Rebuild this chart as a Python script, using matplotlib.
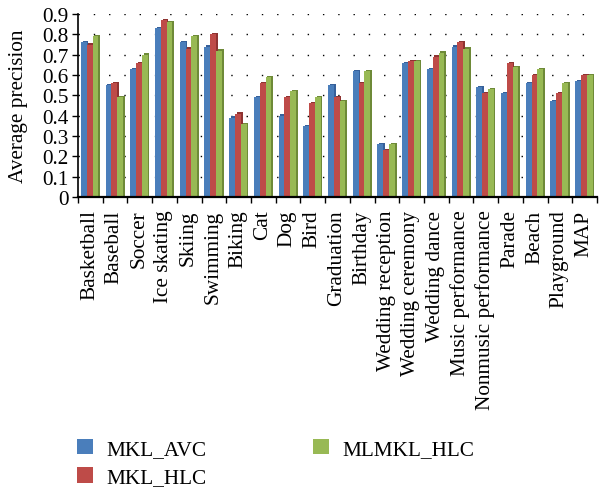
import numpy as np
import matplotlib
matplotlib.use("Agg")
import matplotlib.pyplot as plt

categories = ["Basketball", "Baseball", "Soccer", "Ice skating", "Skiing", "Swimming",
              "Biking", "Cat", "Dog", "Bird", "Graduation", "Birthday",
              "Wedding reception", "Wedding ceremony", "Wedding dance",
              "Music performance", "Nonmusic performance", "Parade", "Beach",
              "Playground", "MAP"]

mkl_avc = [0.76, 0.55, 0.63, 0.83, 0.76, 0.74, 0.39, 0.49, 0.40, 0.35, 0.55,
           0.62, 0.26, 0.66, 0.63, 0.74, 0.54, 0.51, 0.56, 0.47, 0.57]
mkl_hlc = [0.75, 0.56, 0.66, 0.87, 0.73, 0.80, 0.41, 0.56, 0.49, 0.46, 0.49,
           0.56, 0.23, 0.67, 0.69, 0.76, 0.51, 0.66, 0.60, 0.51, 0.60]
mlmkl_hlc = [0.79, 0.49, 0.70, 0.86, 0.79, 0.72, 0.36, 0.59, 0.52, 0.49, 0.47,
             0.62, 0.26, 0.67, 0.71, 0.73, 0.53, 0.64, 0.63, 0.56, 0.60]

series = [("MKL_AVC", mkl_avc, "#4A7EBB", "#36609A"),
          ("MKL_HLC", mkl_hlc, "#BE4B48", "#8E3331"),
          ("MLMKL_HLC", mlmkl_hlc, "#98B954", "#6E8A38")]

yticks = [0, 0.1, 0.2, 0.3, 0.4, 0.5, 0.6, 0.7, 0.8, 0.9]
ytick_labels = ["0", "0.1", "0.2", "0.3", "0.4", "0.5", "0.6", "0.7", "0.8", "0.9"]

plt.rcParams["font.family"] = ["Liberation Serif", "DejaVu Serif"]
FS = 15.3

fig = plt.figure(figsize=(6.01, 4.89), dpi=100)
ax = fig.add_axes([78 / 601, 1 - 198 / 489, (597 - 78) / 601, (198 - 15) / 489])

n = len(categories)
x = np.arange(n) + 0.47
w = 0.235
offsets = [-w, 0.0, w]

handles = []
for k, (name, vals, col, dark) in enumerate(series):
    xs = x + offsets[k]
    vals = np.asarray(vals)
    # darker side/top face gives the columns a bit of depth
    ax.bar(xs + 0.07, vals + 0.006, width=w, color=dark, zorder=2 + k * 2)
    b = ax.bar(xs, vals, width=w, color=col, zorder=3 + k * 2, label=name)
    handles.append(b)

ax.set_xlim(0, n)
ax.set_ylim(0, 0.9)
ax.set_yticks(yticks)
ax.set_yticklabels(ytick_labels, fontsize=FS)
ax.set_xticks(x)
ax.set_xticklabels(categories, rotation=90, fontsize=FS)
ax.tick_params(axis="x", length=0, pad=9)
ax.set_xticks(np.arange(n + 1), minor=True)
ax.tick_params(axis="x", which="minor", length=4, width=1, direction="out")
ax.tick_params(axis="y", length=4, width=1, direction="out", pad=3)

for y in yticks[1:]:
    ax.axhline(y, color="black", linestyle=(0, (1, 10)), linewidth=1.0, zorder=1)

for s in ["top", "right"]:
    ax.spines[s].set_visible(False)
ax.spines["left"].set_linewidth(1.2)
ax.spines["bottom"].set_linewidth(1.6)
ax.spines["bottom"].set_zorder(20)

ax.set_ylabel("Average precision", fontsize=FS, labelpad=10)

fig.legend(handles=handles, loc="upper left", bbox_to_anchor=(77 / 601, 1 - 440 / 489),
           ncol=2, frameon=False, fontsize=FS, handlelength=0.74,
           handleheight=0.74, handletextpad=0.65, columnspacing=5.0,
           labelspacing=0.38, borderpad=0, borderaxespad=0)

fig.savefig("out.png", dpi=100)
